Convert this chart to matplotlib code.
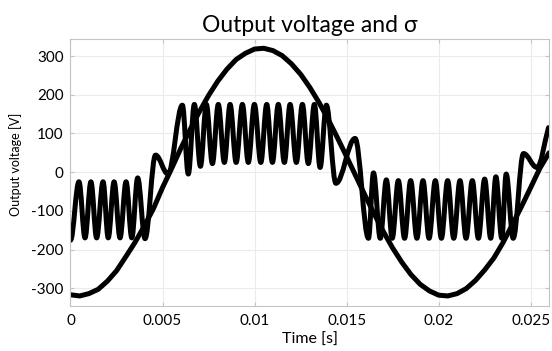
import matplotlib
matplotlib.use("Agg")
import matplotlib.pyplot as plt
from matplotlib.path import Path
from matplotlib.patches import PathPatch

plt.rcParams['font.family'] = ['Lato', 'DejaVu Sans']
plt.rcParams['axes.unicode_minus'] = False

# Grid voltage (smooth sinusoid-like curve), read every 0.5 ms
grid_t = [0.0000, 0.0005, 0.0010, 0.0015, 0.0020, 0.0025, 0.0030, 0.0035, 0.0040, 0.0045,
          0.0050, 0.0055, 0.0060, 0.0065, 0.0070, 0.0075, 0.0080, 0.0085, 0.0090, 0.0095,
          0.0100, 0.0105, 0.0110, 0.0115, 0.0120, 0.0125, 0.0130, 0.0135, 0.0140, 0.0145,
          0.0150, 0.0155, 0.0160, 0.0165, 0.0170, 0.0175, 0.0180, 0.0185, 0.0190, 0.0195,
          0.0200, 0.0205, 0.0210, 0.0215, 0.0220, 0.0225, 0.0230, 0.0235, 0.0240, 0.0245,
          0.0250, 0.0255, 0.0260]
grid_v = [-317, -320, -314, -303, -282, -255, -219, -182, -140, -95,
          -40, 10, 62, 110, 156, 198, 235, 266, 291, 307,
          318, 320, 314, 301, 280, 253, 219, 180, 136, 89,
          40, -10, -60, -108, -154, -196, -233, -265, -290, -307,
          -318, -320, -314, -301, -280, -253, -222, -182, -136, -89,
          -40, 10, 50]

# Output voltage (fast oscillating curve): its turning points
out_t = [0.00000, 0.00046, 0.00079, 0.00111, 0.00142, 0.00177, 0.00205, 0.00237, 0.00269, 0.00302,
         0.00333, 0.00365, 0.00405, 0.00462, 0.00530, 0.00608,
         0.00640, 0.00673, 0.00706, 0.00738, 0.00771, 0.00803, 0.00836, 0.00867, 0.00900,
         0.00934, 0.00966, 0.00999, 0.01034, 0.01066, 0.01097, 0.01129, 0.01162, 0.01193,
         0.01227, 0.01260, 0.01292, 0.01325, 0.01356, 0.01390, 0.01442, 0.01546,
         0.01619, 0.01646, 0.01683, 0.01716, 0.01748, 0.01781, 0.01815, 0.01848,
         0.01882, 0.01915, 0.01948, 0.01982, 0.02015, 0.02049, 0.02082, 0.02116, 0.02149,
         0.02183, 0.02216, 0.02250, 0.02283, 0.02311, 0.02343, 0.02367, 0.02405,
         0.02461, 0.02534, 0.02597]
out_v = [-176, -25, -170, -25, -170, -25, -170, -25, -170, -25,
         -170, -15, -172, 44, -5, 173,
         -5, 175, 15, 175, 22, 175, 25, 175, 25,
         175, 25, 175, 25, 175, 25, 175, 25, 175,
         25, 175, 22, 175, 12, 173, -29, 87,
         -171, -2, -171, -20, -171, -22, -171, -22,
         -171, -22, -171, -22, -171, -22, -171, -22, -171,
         -22, -171, -18, -171, -12, -171, -5, -171,
         48, 12, 115]

x_ticks = [0, 0.005, 0.01, 0.015, 0.02, 0.025]
x_tick_labels = ['0', '0.005', '0.01', '0.015', '0.02', '0.025']
y_ticks = [-300, -200, -100, 0, 100, 200, 300]
y_tick_labels = ['-300', '-200', '-100', '0', '100', '200', '300']

fig = plt.figure(figsize=(5.52, 3.51), dpi=100)
ax = fig.add_axes([0.1277, 0.1282, 0.8660, 0.7607])

LW = 3.6
ax.plot(grid_t, grid_v, color='black', lw=LW, solid_joinstyle='round', solid_capstyle='round')

# smooth drawing of the oscillating trace: cubic segments with flat tangents at turning points
k = 0.364
verts = [(out_t[0], out_v[0])]
codes = [Path.MOVETO]
n = len(out_t)
for i in range(n - 1):
    t0, v0 = out_t[i], out_v[i]
    t1, v1 = out_t[i + 1], out_v[i + 1]
    d = t1 - t0
    c1 = (t0 + k * d, v0)
    if i + 1 == n - 1:
        c2 = (t1 - k * d, v1 - k * (v1 - v0))
    else:
        c2 = (t1 - k * d, v1)
    verts += [c1, c2, (t1, v1)]
    codes += [Path.CURVE4, Path.CURVE4, Path.CURVE4]
patch = PathPatch(Path(verts, codes), facecolor='none', edgecolor='black', lw=LW,
                  joinstyle='round', capstyle='round', transform=ax.transData)
ax.add_patch(patch)

ax.set_xlim(0, 0.02597)
ax.set_ylim(-346, 344)
ax.set_xticks(x_ticks)
ax.set_xticklabels(x_tick_labels)
ax.set_yticks(y_ticks)
ax.set_yticklabels(y_tick_labels)

ax.grid(True, color='#ebebeb', lw=0.8)
ax.set_axisbelow(True)
for s in ax.spines.values():
    s.set_color('#c4c4c4')
    s.set_linewidth(0.8)
ax.tick_params(direction='in', length=3, color='#c4c4c4', labelsize=11,
               top=True, right=True, labelcolor='black')
ax.tick_params(axis='x', pad=6)
ax.tick_params(axis='y', pad=5)

ax.set_xlabel('Time [s]', fontsize=11.5, labelpad=3)
ax.set_ylabel('Output voltage [V]', fontsize=9)
ax.yaxis.set_label_coords(-0.102, 0.53)
ax.set_title('Output voltage and σ', fontsize=16.5, pad=5,
             fontfamily=['Lato', 'DejaVu Serif'])

fig.savefig('out.png', dpi=100)
